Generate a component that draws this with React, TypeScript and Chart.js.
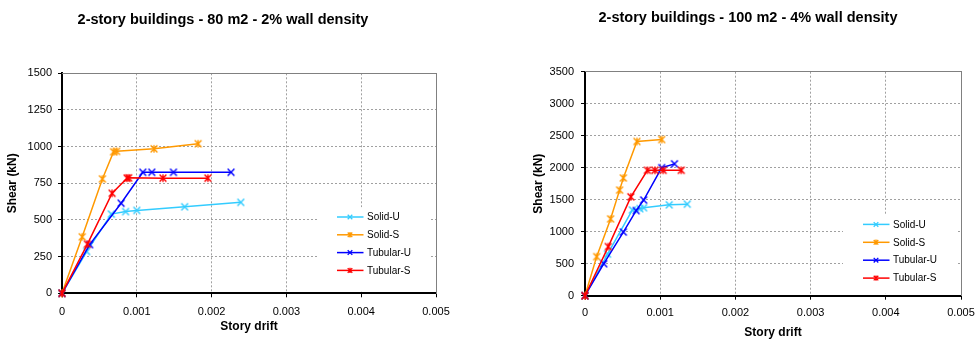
import React, { useEffect, useRef } from 'react';
import { Chart, registerables } from 'chart.js';

Chart.register(...registerables);

const FONT = "'Liberation Sans', Arial, Helvetica, sans-serif";
Chart.defaults.font.family = FONT;
Chart.defaults.color = '#000';

// ---------- shared ----------
const seriesNames = ['Solid-U', 'Solid-S', 'Tubular-U', 'Tubular-S'];
const seriesColors = ['#33CCFF', '#FF9900', '#0000FF', '#FF0000'];
const seriesStar = [false, true, false, true];
const xTickLabels = ['0', '0.001', '0.002', '0.003', '0.004', '0.005'];
const xAxisTitle = 'Story drift';
const yAxisTitle = 'Shear (kN)';

// ---------- left chart: 80 m2 - 2% ----------
const leftTitle = '2-story buildings - 80 m2 - 2% wall density';
const leftSolidU = [[0, 0], [0.00033, 285], [0.00066, 540], [0.00085, 557], [0.001, 565], [0.00164, 590], [0.00239, 620]];
const leftSolidS = [[0, 0], [0.00027, 385], [0.00054, 780], [0.00069, 965], [0.00073, 968], [0.00123, 985], [0.00182, 1020]];
const leftTubularU = [[0, 0], [0.00037, 332], [0.00079, 614], [0.00108, 825], [0.0012, 825], [0.00149, 825], [0.00226, 825]];
const leftTubularS = [[0, 0], [0.00034, 335], [0.00067, 682], [0.00087, 785], [0.00089, 787], [0.00135, 785], [0.00195, 785]];
const leftYTickLabels = ['0', '250', '500', '750', '1000', '1250', '1500'];

// ---------- right chart: 100 m2 - 4% ----------
const rightTitle = '2-story buildings - 100 m2 - 4% wall density';
const rightSolidU = [[0, 0], [0.0003, 650], [0.00063, 1340], [0.00073, 1360], [0.00078, 1375], [0.00112, 1420], [0.00136, 1430]];
const rightSolidS = [[0, 0], [0.000155, 610], [0.00034, 1200], [0.00046, 1650], [0.00051, 1840], [0.00069, 2410], [0.00102, 2440]];
const rightTubularU = [[0, 0], [0.00025, 500], [0.00051, 995], [0.00068, 1330], [0.00078, 1495], [0.00102, 2000], [0.00119, 2060]];
const rightTubularS = [[0, 0], [0.00031, 767], [0.00061, 1545], [0.00083, 1960], [0.00093, 1960], [0.00104, 1960], [0.00128, 1960]];
const rightYTickLabels = ['0', '500', '1000', '1500', '2000', '2500', '3000', '3500'];

function markerPath(ctx: CanvasRenderingContext2D, cx: number, cy: number, h: number, star: boolean) {
  ctx.beginPath();
  ctx.moveTo(cx - h, cy - h);
  ctx.lineTo(cx + h, cy + h);
  ctx.moveTo(cx + h, cy - h);
  ctx.lineTo(cx - h, cy + h);
  if (star) {
    ctx.moveTo(cx, cy - h - 0.4);
    ctx.lineTo(cx, cy + h + 0.4);
  }
  ctx.stroke();
}

function makeMarker(color: string, star: boolean) {
  const size = 10;
  const c = document.createElement('canvas');
  c.width = size;
  c.height = size;
  const ctx = c.getContext('2d')!;
  ctx.strokeStyle = color;
  ctx.lineWidth = 1.4;
  markerPath(ctx, size / 2, size / 2, 3.4, star);
  return c;
}

const insideLegend = {
  id: 'insideLegend',
  afterDraw(chart: any, _args: any, opts: any) {
    const { ctx, chartArea } = chart;
    const bx = chartArea.right - opts.offsetRight;
    const by = chartArea.top + opts.offsetTop;
    const bh = chartArea.bottom - 2 - by;
    ctx.save();
    ctx.fillStyle = '#ffffff';
    ctx.fillRect(bx, by, opts.width, bh);
    ctx.font = `${opts.fontSize}px ${FONT}`;
    ctx.textBaseline = 'middle';
    ctx.textAlign = 'left';
    chart.data.datasets.forEach((ds: any, i: number) => {
      const y = by + opts.firstRow + i * opts.rowGap;
      ctx.strokeStyle = ds.borderColor;
      ctx.lineWidth = 1.5;
      ctx.beginPath();
      ctx.moveTo(bx + 20, y);
      ctx.lineTo(bx + 46.5, y);
      ctx.stroke();
      ctx.lineWidth = 1.3;
      markerPath(ctx, bx + 33, y, 2.3, seriesStar[i]);
      ctx.fillStyle = '#000';
      ctx.fillText(ds.label, bx + 50, y + 0.5);
    });
    ctx.restore();
  },
};

interface PanelSpec {
  title: string;
  series: number[][][];
  yMax: number;
  yStep: number;
  yTicks: string[];
  yAxisWidth: number;
  rightGap: number;
  layoutRight: number;
  xAxisHeight: number;
  titlePad: { top: number; bottom: number };
  yTickPad: number;
  xTickPad: number;
  yTitlePad: number;
  xTitlePad: number;
  legend: any;
}

function makeConfig(p: PanelSpec): any {
  const datasets = p.series.map((pts, i) => ({
    label: seriesNames[i],
    data: pts.map(([x, y]) => ({ x, y })),
    borderColor: seriesColors[i],
    backgroundColor: seriesColors[i],
    borderWidth: 1.5,
    pointStyle: makeMarker(seriesColors[i], seriesStar[i]),
    pointRadius: 4,
    pointHoverRadius: 4,
    tension: 0,
    fill: false,
    clip: false,
    order: 4 - i,
  }));
  return {
    type: 'line',
    data: { datasets },
    plugins: [insideLegend],
    options: {
      responsive: false,
      animation: false,
      devicePixelRatio: 1,
      events: [],
      layout: { padding: { left: 0, right: p.layoutRight, top: 0, bottom: 0 } },
      plugins: {
        legend: { display: false },
        tooltip: { enabled: false },
        title: {
          display: true,
          text: p.title,
          color: '#000',
          font: { family: FONT, size: 14.5, weight: 'bold' },
          padding: p.titlePad,
        },
        insideLegend: p.legend,
      },
      scales: {
        x: {
          type: 'linear',
          position: 'bottom',
          min: 0,
          max: 0.005,
          ticks: {
            stepSize: 0.001,
            padding: p.xTickPad,
            color: '#000',
            font: { family: FONT, size: 11 },
            maxRotation: 0,
            autoSkip: false,
            callback: (_v: any, i: number) => xTickLabels[i],
          },
          grid: { color: '#a0a0a0', lineWidth: 1, tickColor: '#000', tickLength: 4, tickBorderDash: [] },
          border: { display: true, color: '#000', width: 2, dash: [2, 2] },
          title: {
            display: true,
            text: xAxisTitle,
            color: '#000',
            font: { family: FONT, size: 12, weight: 'bold' },
            padding: { top: 0, bottom: p.xTitlePad },
          },
          afterFit: (s: any) => {
            s.height = p.xAxisHeight;
            s.paddingLeft = 0;
            s.paddingRight = 0;
          },
        },
        y: {
          type: 'linear',
          position: 'left',
          min: 0,
          max: p.yMax,
          ticks: {
            stepSize: p.yStep,
            padding: p.yTickPad,
            color: '#000',
            font: { family: FONT, size: 11 },
            autoSkip: false,
            callback: (_v: any, i: number) => p.yTicks[i],
          },
          grid: { color: '#a0a0a0', lineWidth: 1, tickColor: '#000', tickLength: 4, tickBorderDash: [] },
          border: { display: true, color: '#000', width: 2, dash: [2, 2] },
          title: {
            display: true,
            text: yAxisTitle,
            color: '#000',
            font: { family: FONT, size: 12, weight: 'bold' },
            padding: { top: p.yTitlePad, bottom: 0 },
          },
          afterFit: (s: any) => {
            s.width = p.yAxisWidth;
            s.paddingTop = 0;
            s.paddingBottom = 0;
          },
        },
        x2: {
          type: 'linear',
          position: 'top',
          display: true,
          min: 0,
          max: 1,
          ticks: { display: false },
          grid: { display: true, drawOnChartArea: false, drawTicks: false },
          border: { display: true, color: '#808080', width: 1 },
          afterFit: (s: any) => {
            s.height = 0;
          },
        },
        y2: {
          type: 'linear',
          position: 'right',
          display: true,
          min: 0,
          max: 1,
          ticks: { display: false },
          grid: { display: true, drawOnChartArea: false, drawTicks: false },
          border: { display: true, color: '#808080', width: 1 },
          afterFit: (s: any) => {
            s.width = p.rightGap;
            s.paddingTop = 0;
            s.paddingBottom = 0;
          },
        },
      },
    },
  };
}

const leftSpec: PanelSpec = {
  title: leftTitle,
  series: [leftSolidU, leftSolidS, leftTubularU, leftTubularS],
  yMax: 1500,
  yStep: 250,
  yTicks: leftYTickLabels,
  yAxisWidth: 62,
  rightGap: 10,
  layoutRight: 10,
  xAxisHeight: 46.7,
  titlePad: { top: 10.8, bottom: 45.1 },
  yTickPad: 6,
  xTickPad: 8.4,
  yTitlePad: 5.8,
  xTitlePad: 5.8,
  legend: { offsetRight: 119, offsetTop: 134, width: 112, firstRow: 9.7, rowGap: 17.8, fontSize: 10 },
};

const rightSpec: PanelSpec = {
  title: rightTitle,
  series: [rightSolidU, rightSolidS, rightTubularU, rightTubularS],
  yMax: 3500,
  yStep: 500,
  yTicks: rightYTickLabels,
  yAxisWidth: 61,
  rightGap: 11,
  layoutRight: 6,
  xAxisHeight: 44.3,
  titlePad: { top: 9.3, bottom: 45 },
  yTickPad: 7,
  xTickPad: 7,
  yTitlePad: 7.3,
  xTitlePad: 0,
  legend: { offsetRight: 118, offsetTop: 143, width: 114, firstRow: 9.7, rowGap: 17.9, fontSize: 10 },
};

function Panel({ spec, left, width }: { spec: PanelSpec; left: number; width: number }) {
  const ref = useRef<HTMLCanvasElement | null>(null);
  useEffect(() => {
    if (!ref.current) return;
    const chart = new Chart(ref.current, makeConfig(spec));
    return () => chart.destroy();
  }, [spec]);
  return (
    <canvas
      ref={ref}
      width={width}
      height={340}
      style={{ position: 'absolute', left, top: 0, width, height: 340 }}
    />
  );
}

export default function App() {
  return (
    <div style={{ position: 'absolute', left: 0, top: 0, width: 978, height: 340, background: '#fff', overflow: 'hidden' }}>
      <Panel spec={leftSpec} left={0} width={456} />
      <Panel spec={rightSpec} left={524} width={454} />
    </div>
  );
}
